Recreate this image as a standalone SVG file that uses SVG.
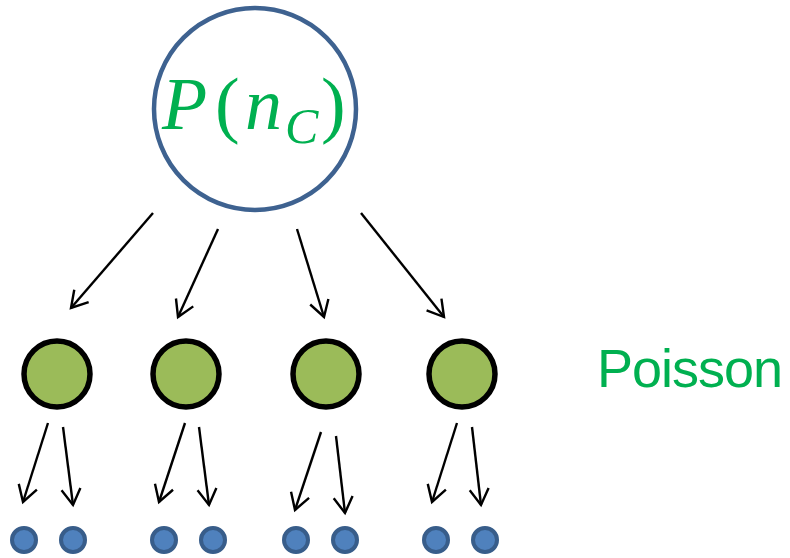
<svg xmlns="http://www.w3.org/2000/svg" width="790" height="558" viewBox="0 0 790 558">
<style>
.edge{stroke:#000;stroke-width:2.4;fill:none;marker-end:url(#arr)}
.g{fill:#9BBB59;stroke:#000;stroke-width:5.5}
.b{fill:#4F81BD;stroke:#385D8A;stroke-width:4}
.m{font-family:"Liberation Serif",serif;fill:#00B050}
</style>
<defs>
<marker id="arr" markerUnits="userSpaceOnUse" markerWidth="40" markerHeight="40" refX="0" refY="0" orient="auto" overflow="visible" viewBox="-20 -20 40 40">
<path d="M -16,-9.5 L 0,0 L -16,9.5" fill="none" stroke="#000" stroke-width="2.4" stroke-linejoin="miter"/>
</marker>
</defs>
<rect width="790" height="558" fill="#fff"/>
<g id="root">
<circle cx="255" cy="109" r="101" fill="#fff" stroke="#3E6290" stroke-width="4.5"/>
<text class="m" x="162" y="129" font-size="74" font-style="italic">P</text>
<text class="m" x="215" y="129" font-size="74">(</text>
<text class="m" x="245" y="129" font-size="74" font-style="italic">n</text>
<text class="m" x="285" y="143" font-size="50" font-style="italic">C</text>
<text class="m" x="321" y="129" font-size="74">)</text>
</g>
<g id="n1"><circle class="g" cx="57" cy="374" r="33"/></g>
<g id="n2"><circle class="g" cx="186" cy="374" r="33"/></g>
<g id="n3"><circle class="g" cx="326" cy="374" r="33"/></g>
<g id="n4"><circle class="g" cx="462" cy="374" r="33"/></g>
<g id="d1"><circle class="b" cx="24" cy="540" r="12"/></g>
<g id="d2"><circle class="b" cx="73" cy="540" r="12"/></g>
<g id="d3"><circle class="b" cx="164" cy="540" r="12"/></g>
<g id="d4"><circle class="b" cx="213" cy="540" r="12"/></g>
<g id="d5"><circle class="b" cx="296" cy="540" r="12"/></g>
<g id="d6"><circle class="b" cx="345" cy="540" r="12"/></g>
<g id="d7"><circle class="b" cx="436" cy="540" r="12"/></g>
<g id="d8"><circle class="b" cx="485" cy="540" r="12"/></g>
<g id="label"><text x="597" y="387" font-family="'Liberation Sans',Arial,sans-serif" font-size="54" fill="#00B050" textLength="186">Poisson</text></g>
<g id="connectors">
<line class="edge" x1="153" y1="213" x2="71" y2="308"/>
<line class="edge" x1="218" y1="229" x2="178" y2="317"/>
<line class="edge" x1="297" y1="229" x2="324" y2="317"/>
<line class="edge" x1="361" y1="213" x2="444" y2="317"/>
<line class="edge" x1="48" y1="423" x2="23" y2="502"/>
<line class="edge" x1="63" y1="427" x2="73" y2="505"/>
<line class="edge" x1="185" y1="423" x2="159" y2="502"/>
<line class="edge" x1="199" y1="427" x2="209" y2="505"/>
<line class="edge" x1="321" y1="432" x2="295" y2="510"/>
<line class="edge" x1="336" y1="436" x2="345" y2="513"/>
<line class="edge" x1="457" y1="423" x2="432" y2="502"/>
<line class="edge" x1="472" y1="427" x2="481" y2="505"/>
</g>
</svg>
